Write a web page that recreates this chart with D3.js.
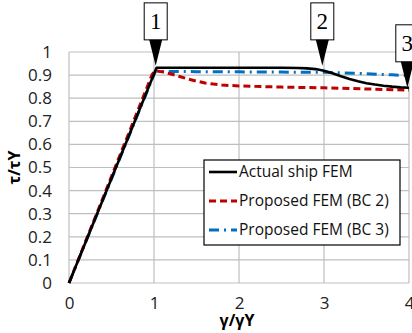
<!DOCTYPE html>
<html>
<head>
<meta charset="utf-8">
<script src="https://cdn.jsdelivr.net/npm/d3@7"></script>
<style>
  body { margin: 0; background: #fff; }
  text { font-family: "Open Sans", sans-serif; }
</style>
</head>
<body>
<div id="chart"></div>
<script>
// curves
const actualX = [0, 1.03, 1.5, 2, 2.5, 2.7, 2.8, 2.9, 3.0, 3.1, 3.2, 3.3, 3.4, 3.5, 3.6, 3.7, 3.8, 3.9, 4];
const actualY = [0, 0.932, 0.932, 0.932, 0.932, 0.931, 0.929, 0.926, 0.919, 0.908, 0.895, 0.883, 0.873, 0.865, 0.859, 0.854, 0.85, 0.847, 0.845];
const bc2X = [0, 0.98, 1.015, 1.05, 1.1, 1.2, 1.3, 1.4, 1.5, 1.6, 1.7, 1.8, 1.9, 2, 2.5, 3, 3.5, 4];
const bc2Y = [0, 0.904, 0.918, 0.917, 0.914, 0.905, 0.894, 0.883, 0.874, 0.866, 0.861, 0.857, 0.855, 0.853, 0.848, 0.845, 0.84, 0.835];
const bc3X = [0, 1.015, 1.5, 2, 2.5, 3, 3.2, 3.5, 3.8, 4];
const bc3Y = [0, 0.916, 0.915, 0.914, 0.913, 0.912, 0.91, 0.906, 0.901, 0.898];

const xTicks = [0, 1, 2, 3, 4];
const yTicks = [0, 0.1, 0.2, 0.3, 0.4, 0.5, 0.6, 0.7, 0.8, 0.9, 1];
const seriesNames = ["Actual ship FEM", "Proposed FEM (BC 2)", "Proposed FEM (BC 3)"];
const seriesColors = ["#000000", "#c00000", "#0070c0"];
const seriesDash = [null, "7,4", "10,5,2,5"];
const seriesWidth = [2.6, 3, 3];

// callouts: label, x, y of the arrow tip
const calloutLabels = ["1", "2", "3"];
const calloutX = [1.02, 2.98, 3.98];
const calloutY = [0.94, 0.94, 0.845];

const width = 412, height = 333;
const margin = {left: 69, right: 3, top: 52, bottom: 50};

const svg = d3.select("#chart").append("svg")
    .attr("width", width)
    .attr("height", height);

const x = d3.scaleLinear().domain([0, 4]).range([margin.left, width - margin.right]);
const y = d3.scaleLinear().domain([0, 1]).range([height - margin.bottom, margin.top]);

// grid
svg.append("g").selectAll("line").data(yTicks).join("line")
    .attr("x1", x(0)).attr("x2", x(4))
    .attr("y1", d => y(d)).attr("y2", d => y(d))
    .attr("stroke", "#bfbfbf").attr("stroke-width", 1.2);
svg.append("g").selectAll("line").data(xTicks).join("line")
    .attr("x1", d => x(d)).attr("x2", d => x(d))
    .attr("y1", y(0)).attr("y2", y(1))
    .attr("stroke", "#bfbfbf").attr("stroke-width", 1.2);

// axes (labels only, the grid is the frame)
const yAxis = svg.append("g")
    .attr("transform", `translate(${x(0)},0)`)
    .call(d3.axisLeft(y).tickValues(yTicks).tickSize(0).tickPadding(17).tickFormat(d3.format("~g")));
const xAxis = svg.append("g")
    .attr("transform", `translate(0,${y(0)})`)
    .call(d3.axisBottom(x).tickValues(xTicks).tickSize(0).tickPadding(14).tickFormat(d3.format("~g")));
[yAxis, xAxis].forEach(g => {
  g.select(".domain").remove();
  g.selectAll("text").attr("font-family", "Open Sans").attr("font-size", 17).attr("fill", "#222");
});

// axis titles
svg.append("text")
    .attr("transform", `translate(20,${(y(0) + y(1)) / 2}) rotate(-90)`)
    .attr("text-anchor", "middle")
    .attr("font-size", 16).attr("font-weight", "bold")
    .text("τ/τY");
svg.append("text")
    .attr("x", (x(0) + x(4)) / 2 - 2).attr("y", 326)
    .attr("text-anchor", "middle")
    .attr("font-size", 16).attr("font-weight", "bold")
    .text("γ/γY");

// curves
const line = d3.line().x(d => x(d[0])).y(d => y(d[1]));
const series = [
  d3.zip(actualX, actualY),
  d3.zip(bc2X, bc2Y),
  d3.zip(bc3X, bc3Y)
];
[2, 1, 0].forEach(i => {
  svg.append("path")
      .datum(series[i])
      .attr("d", line)
      .attr("fill", "none")
      .attr("stroke", seriesColors[i])
      .attr("stroke-width", seriesWidth[i])
      .attr("stroke-linejoin", "round")
      .attr("stroke-dasharray", seriesDash[i]);
});

// legend
const legend = svg.append("g").attr("transform", "translate(204,160)");
legend.append("rect")
    .attr("width", 196).attr("height", 85)
    .attr("fill", "#fff").attr("stroke", "#000").attr("stroke-width", 1.2);
seriesNames.forEach((name, i) => {
  const ly = 12 + i * 29;
  legend.append("line")
      .attr("x1", 5).attr("x2", 33).attr("y1", ly).attr("y2", ly)
      .attr("stroke", seriesColors[i])
      .attr("stroke-width", seriesWidth[i])
      .attr("stroke-dasharray", seriesDash[i]);
  legend.append("text")
      .attr("x", 35).attr("y", ly).attr("dy", "0.35em")
      .attr("font-size", 15.5)
      .attr("fill", "#111")
      .text(name);
});

// callouts: box with a number, triangle pointing down
const boxW = 23, boxH = 37, triH = 26, triW = 13;
calloutLabels.forEach((lab, i) => {
  const tx = x(calloutX[i]), ty = y(calloutY[i]);
  const g = svg.append("g");
  const by = ty - triH - boxH;
  g.append("rect")
      .attr("x", tx - boxW / 2).attr("y", by)
      .attr("width", boxW).attr("height", boxH)
      .attr("fill", "#fff").attr("stroke", "#000").attr("stroke-width", 1);
  g.append("path")
      .attr("d", `M${tx - triW / 2},${ty - triH} L${tx + triW / 2},${ty - triH} L${tx},${ty} Z`)
      .attr("fill", "#000");
  g.append("text")
      .attr("x", tx).attr("y", by + boxH / 2).attr("dy", "0.34em")
      .attr("text-anchor", "middle")
      .style("font-family", "'Liberation Serif', serif")
      .attr("font-size", 23)
      .text(lab);
});
</script>
</body>
</html>
